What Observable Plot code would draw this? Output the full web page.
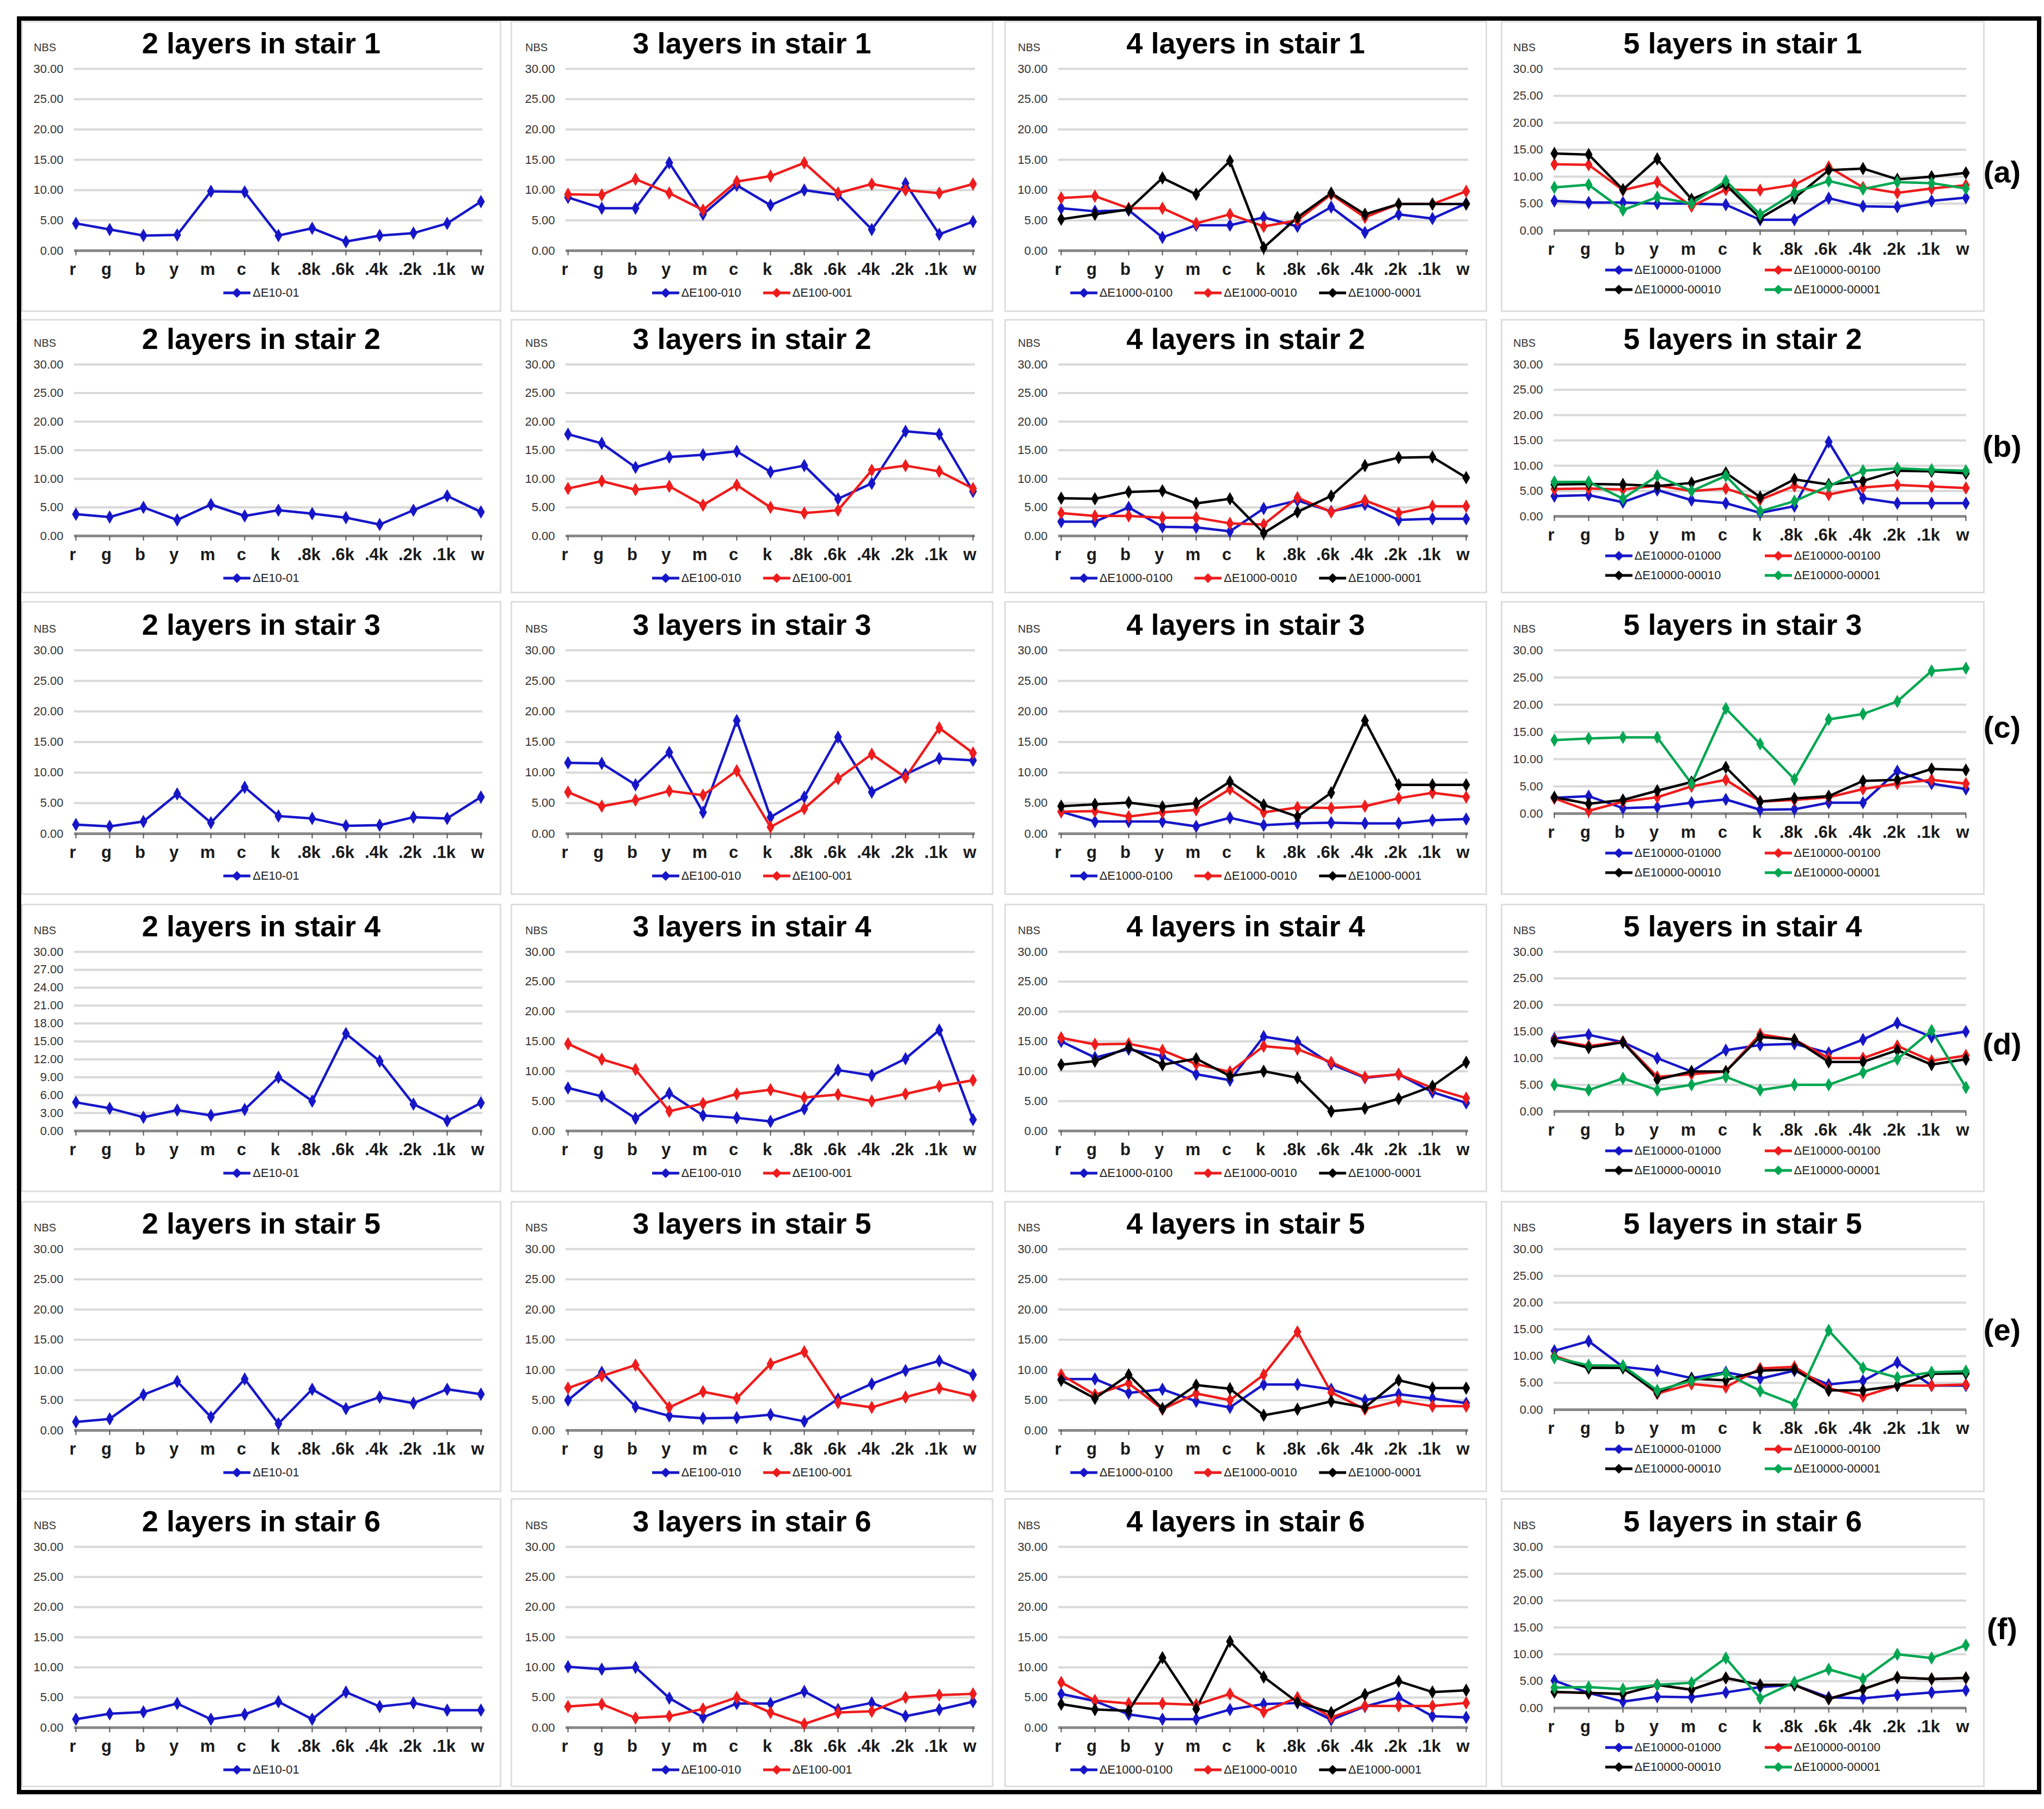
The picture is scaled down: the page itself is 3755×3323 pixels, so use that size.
<!DOCTYPE html>
<html><head><meta charset="utf-8">
<script src="https://cdn.jsdelivr.net/npm/d3@7"></script>
<script src="https://cdn.jsdelivr.net/npm/@observablehq/plot@0.6"></script>
<style>
body{margin:0;background:#fff;font-family:"Liberation Sans",Arial,sans-serif;}
#fig{position:relative;width:3755px;height:3323px;background:#fff;overflow:hidden;}
.abs{position:absolute;}
.panel{position:absolute;border:3px solid #dedede;box-sizing:border-box;background:#fff;}
.title{position:absolute;font-weight:bold;font-size:54px;color:#000;white-space:nowrap;transform:translate(-50%,-50%);line-height:1;}
.nbs{position:absolute;font-size:20px;color:#333;transform:translateY(-50%);line-height:1;}
.legend{position:absolute;transform:translate(-50%,-50%);display:flex;gap:40px;align-items:center;white-space:nowrap;}
.legend5{position:absolute;transform:translate(-50%,0);display:grid;grid-template-columns:auto auto;column-gap:80px;row-gap:14px;white-space:nowrap;}
.item{display:flex;align-items:center;font-size:22px;color:#222;line-height:1;}
.tag{position:absolute;font-weight:bold;font-size:56px;transform:translate(-50%,-50%);line-height:1;}
</style></head>
<body><div id="fig"></div>
<script>
const cats = ["r","g","b","y","m","c","k",".8k",".6k",".4k",".2k",".1k","w"];
const yTicks = [0,5,10,15,20,25,30];
const yTicks3 = [0,3,6,9,12,15,18,21,24,27,30];
const names2 = ["ΔE10-01"];
const names3 = ["ΔE100-010","ΔE100-001"];
const names4 = ["ΔE1000-0100","ΔE1000-0010","ΔE1000-0001"];
const names5 = ["ΔE10000-01000","ΔE10000-00100","ΔE10000-00010","ΔE10000-00001"];
const rowTags = ["(a)","(b)","(c)","(d)","(e)","(f)"];

// stair 1
const s1_2L = [4.5,3.5,2.5,2.6,9.8,9.7,2.5,3.7,1.5,2.5,2.9,4.5,8.1];
const s1_3L_010 = [8.8,7.0,7.0,14.5,6.0,10.8,7.5,10.0,9.2,3.5,11.1,2.7,4.8];
const s1_3L_001 = [9.3,9.2,11.8,9.5,6.7,11.4,12.3,14.5,9.5,11.0,10.0,9.5,11.0];
const s1_4L_0100 = [7.0,6.5,6.7,2.2,4.2,4.2,5.5,4.0,7.2,3.0,6.0,5.3,7.8];
const s1_4L_0010 = [8.7,9.0,7.0,7.0,4.5,6.0,4.0,5.0,9.3,5.5,7.7,7.7,9.8];
const s1_4L_0001 = [5.2,6.0,6.8,12.0,9.3,14.8,0.5,5.5,9.5,6.0,7.7,7.7,7.7];
const s1_5L_01000 = [5.5,5.2,5.2,5.0,5.0,4.8,2.0,2.0,6.0,4.5,4.4,5.5,6.1];
const s1_5L_00100 = [12.3,12.2,7.5,9.0,4.5,7.6,7.5,8.5,11.8,8.0,7.0,7.8,8.4];
const s1_5L_00010 = [14.3,14.1,7.6,13.3,5.8,8.5,2.3,6.0,11.2,11.5,9.5,10.0,10.7];
const s1_5L_00001 = [8.0,8.5,3.8,6.2,5.0,9.2,3.0,7.0,9.2,7.7,9.0,8.8,7.8];
// stair 2
const s2_2L = [3.8,3.3,5.0,2.8,5.5,3.5,4.5,3.9,3.2,2.0,4.5,7.0,4.2];
const s2_3L_010 = [17.8,16.2,12.0,13.8,14.2,14.8,11.2,12.3,6.5,9.2,18.3,17.8,7.8];
const s2_3L_001 = [8.3,9.6,8.1,8.7,5.4,8.9,5.0,4.0,4.5,11.5,12.3,11.3,8.3];
const s2_4L_0100 = [2.5,2.5,5.0,1.6,1.5,0.8,4.8,6.2,4.3,5.5,2.8,3.0,3.0];
const s2_4L_0010 = [4.0,3.5,3.5,3.2,3.2,2.2,2.0,6.7,4.2,6.2,4.0,5.2,5.2];
const s2_4L_0001 = [6.6,6.5,7.7,7.9,5.7,6.5,0.5,4.2,7.0,12.3,13.7,13.8,10.2];
const s2_5L_01000 = [4.0,4.2,2.8,5.2,3.2,2.6,0.7,2.0,14.7,3.6,2.6,2.6,2.6];
const s2_5L_00100 = [5.4,5.5,5.3,6.1,5.0,5.5,3.3,6.0,4.3,5.7,6.2,5.9,5.6];
const s2_5L_00010 = [6.3,6.4,6.3,6.0,6.6,8.6,3.8,7.3,6.3,7.0,9.0,8.9,8.5];
const s2_5L_00001 = [6.8,6.8,3.5,8.0,5.0,8.0,1.0,3.0,6.0,9.0,9.5,9.2,9.0];
// stair 3
const s3_2L = [1.5,1.2,2.0,6.5,1.8,7.6,2.9,2.5,1.3,1.4,2.7,2.5,6.0];
const s3_3L_010 = [11.6,11.5,8.0,13.3,3.5,18.5,2.7,6.0,15.8,6.8,9.7,12.3,12.0];
const s3_3L_001 = [6.8,4.5,5.5,7.0,6.3,10.3,1.1,4.1,9.0,13.0,9.2,17.3,13.2];
const s3_4L_0100 = [3.6,2.0,2.0,2.0,1.2,2.6,1.4,1.7,1.8,1.7,1.7,2.2,2.4];
const s3_4L_0010 = [3.6,3.7,2.8,3.5,3.9,7.3,3.5,4.3,4.2,4.5,5.8,6.7,6.0];
const s3_4L_0001 = [4.5,4.8,5.1,4.4,5.0,8.5,4.7,2.8,6.7,18.5,8.0,8.0,8.0];
const s3_5L_01000 = [2.9,3.2,1.0,1.2,2.0,2.6,0.7,0.8,2.0,2.0,7.8,5.5,4.5];
const s3_5L_00100 = [2.8,0.5,2.2,3.0,5.0,6.2,2.2,2.5,3.0,4.5,5.5,6.2,5.5];
const s3_5L_00010 = [3.0,1.8,2.5,4.2,5.8,8.5,2.2,2.8,3.2,6.0,6.2,8.2,8.0];
const s3_5L_00001 = [13.5,13.8,14.0,14.0,5.5,19.3,12.8,6.3,17.3,18.3,20.6,26.2,26.7];
// stair 4
const s4_2L = [4.8,3.8,2.3,3.5,2.6,3.6,9.0,5.0,16.3,11.7,4.5,1.7,4.7];
const s4_3L_010 = [7.2,5.8,2.1,6.3,2.6,2.2,1.6,3.7,10.2,9.3,12.1,16.9,1.9];
const s4_3L_001 = [14.6,12.0,10.3,3.3,4.6,6.2,6.9,5.6,6.1,5.0,6.2,7.5,8.5];
const s4_4L_0100 = [15.0,12.3,13.7,12.5,9.5,8.5,15.8,14.9,11.2,8.9,9.5,6.5,4.7];
const s4_4L_0010 = [15.6,14.5,14.6,13.5,11.2,9.9,14.2,13.7,11.5,9.0,9.5,7.2,5.5];
const s4_4L_0001 = [11.1,11.7,14.0,11.1,12.1,9.2,10.0,8.9,3.3,3.8,5.4,7.5,11.5];
const s4_5L_01000 = [13.7,14.4,13.0,10.0,7.5,11.5,12.5,12.7,11.0,13.5,16.6,14.0,15.0];
const s4_5L_00100 = [13.4,12.3,13.1,6.5,7.0,7.5,14.5,13.5,10.0,10.0,12.3,9.5,10.5];
const s4_5L_00010 = [13.2,12.0,13.0,6.0,7.5,7.5,14.0,13.5,9.3,9.3,11.5,8.8,9.8];
const s4_5L_00001 = [5.0,4.0,6.2,4.0,5.0,6.5,4.0,5.0,5.0,7.3,9.8,15.2,4.5];
// stair 5
const s5_2L = [1.4,1.9,5.9,8.1,2.2,8.5,1.1,6.8,3.6,5.5,4.5,6.8,6.0];
const s5_3L_010 = [5.0,9.6,3.9,2.4,2.0,2.1,2.6,1.5,5.2,7.7,9.9,11.5,9.2];
const s5_3L_001 = [7.0,9.0,10.8,3.8,6.4,5.3,11.0,13.0,4.6,3.8,5.5,7.0,5.7];
const s5_4L_0100 = [8.5,8.5,6.2,6.8,4.8,3.8,7.6,7.6,6.8,5.0,6.0,5.3,4.5];
const s5_4L_0010 = [9.2,5.9,7.8,3.5,6.1,5.0,9.2,16.3,6.3,3.5,4.9,4.0,4.0];
const s5_4L_0001 = [8.3,5.3,9.2,3.6,7.5,6.9,2.5,3.5,4.8,3.8,8.3,7.0,7.0];
const s5_5L_01000 = [11.0,12.8,8.0,7.3,5.9,7.0,5.8,7.3,4.7,5.4,8.8,4.5,4.5];
const s5_5L_00100 = [10.0,8.0,8.0,3.0,4.8,4.2,7.7,8.0,4.0,2.5,4.5,4.5,4.7];
const s5_5L_00010 = [9.8,7.8,7.8,3.2,5.8,5.5,7.3,7.5,3.6,3.6,4.5,6.7,6.8];
const s5_5L_00001 = [9.7,8.3,8.2,3.6,5.4,6.8,3.5,1.0,14.8,7.8,6.0,7.0,7.2];
// stair 6
const s6_2L = [1.4,2.3,2.6,4.0,1.4,2.2,4.3,1.4,5.9,3.5,4.1,2.9,2.9];
const s6_3L_010 = [10.1,9.7,10.0,4.9,1.7,4.0,4.0,6.0,3.0,4.1,1.9,3.0,4.3];
const s6_3L_001 = [3.5,3.9,1.6,1.9,3.1,5.0,2.5,0.6,2.5,2.7,5.0,5.4,5.6];
const s6_4L_0100 = [5.6,4.4,2.2,1.4,1.4,3.0,3.9,4.1,1.3,3.5,5.0,1.9,1.7];
const s6_4L_0010 = [7.5,4.5,4.0,4.0,3.8,5.6,2.6,5.0,1.7,3.6,3.6,3.6,4.1];
const s6_4L_0001 = [3.9,3.0,2.8,11.6,3.1,14.3,8.4,4.2,2.5,5.5,7.7,5.9,6.2];
const s6_5L_01000 = [5.1,2.8,1.2,2.1,2.0,2.9,3.9,4.3,2.0,1.8,2.4,2.9,3.3];
const s6_5L_00100 = [3.0,2.8,2.6,4.3,3.4,5.6,4.3,4.3,1.7,3.5,5.7,5.4,5.6];
const s6_5L_00010 = [3.0,2.8,2.6,4.3,3.4,5.6,4.3,4.3,1.7,3.5,5.7,5.4,5.6];
const s6_5L_00001 = [3.8,3.9,3.5,4.3,4.7,9.3,1.8,4.8,7.2,5.4,10.0,9.3,11.7];

const panels = [
  [[s1_2L],[s1_3L_010,s1_3L_001],[s1_4L_0100,s1_4L_0010,s1_4L_0001],[s1_5L_01000,s1_5L_00100,s1_5L_00010,s1_5L_00001]],
  [[s2_2L],[s2_3L_010,s2_3L_001],[s2_4L_0100,s2_4L_0010,s2_4L_0001],[s2_5L_01000,s2_5L_00100,s2_5L_00010,s2_5L_00001]],
  [[s3_2L],[s3_3L_010,s3_3L_001],[s3_4L_0100,s3_4L_0010,s3_4L_0001],[s3_5L_01000,s3_5L_00100,s3_5L_00010,s3_5L_00001]],
  [[s4_2L],[s4_3L_010,s4_3L_001],[s4_4L_0100,s4_4L_0010,s4_4L_0001],[s4_5L_01000,s4_5L_00100,s4_5L_00010,s4_5L_00001]],
  [[s5_2L],[s5_3L_010,s5_3L_001],[s5_4L_0100,s5_4L_0010,s5_4L_0001],[s5_5L_01000,s5_5L_00100,s5_5L_00010,s5_5L_00001]],
  [[s6_2L],[s6_3L_010,s6_3L_001],[s6_4L_0100,s6_4L_0010,s6_4L_0001],[s6_5L_01000,s6_5L_00100,s6_5L_00010,s6_5L_00001]]
];
const seriesNames = [names2, names3, names4, names5];

// ---- layout (pixels) ----
const COLORS = ["#1616c8","#ee1c1c","#000000","#00a651"];
const colPanelL = [39, 938, 1845, 2757], colPanelR = [921, 1825, 2732, 3646];
const colPlotL = [136, 1039, 1944, 2854], colPlotR = [886, 1791, 2697, 3612];
const rowPanelT = [38, 586, 1104, 1660, 2206, 2752], rowPanelB = [573, 1090, 1644, 2190, 2741, 3283];
const rowPlotT = [126, 669, 1194, 1748, 2294, 2841];
const rowPlotB = [460, 984, 1531, 2077, 2627, 3173];
const rowPlotB5 = [423, 948, 1494, 2041, 2589, 3137];
const tagY = [316, 820, 1336, 1918, 2443, 2992];
const tagX = 3678;

const fig = document.getElementById("fig");
function el(tag, cls, css, html) {
  const e = document.createElement(tag);
  if (cls) e.className = cls;
  Object.assign(e.style, css || {});
  if (html != null) e.innerHTML = html;
  fig.appendChild(e);
  return e;
}
function swatch(color) {
  return `<svg width="50" height="22" style="margin-right:4px"><line x1="0" x2="50" y1="11" y2="11" stroke="${color}" stroke-width="5"/><path d="M25,2 L34,11 L25,20 L16,11 Z" fill="${color}"/></svg>`;
}

// outer frame
el("div", "abs", {left:"31px", top:"30px", width:"3719px", height:"3266px", border:"8px solid #000", boxSizing:"border-box"});

for (let r = 0; r < 6; r++) {
  for (let c = 0; c < 4; c++) {
    const series = panels[r][c];
    const names = seriesNames[c];
    const pl = colPlotL[c], pr = colPlotR[c];
    const pt = rowPlotT[r], pb = c === 3 ? rowPlotB5[r] : rowPlotB[r];
    el("div", "panel", {left: colPanelL[c] + "px", top: rowPanelT[r] + "px",
      width: (colPanelR[c] - colPanelL[c]) + "px", height: (rowPanelB[r] - rowPanelT[r]) + "px"});
    const data = [];
    series.forEach((vals, i) => vals.forEach((v, j) => data.push({cat: cats[j], v, s: names[i], col: COLORS[i]})));
    const ML = 110, MR = 30, MT = 20, MB = 70;
    const yt = (r === 3 && c === 0) ? yTicks3 : yTicks;
    const svg = Plot.plot({
      width: pr - pl + ML + MR, height: pb - pt + MT + MB,
      marginLeft: ML, marginRight: MR, marginTop: MT, marginBottom: MB,
      style: {background: "transparent", fontFamily: "'Liberation Sans', Arial, sans-serif", overflow: "visible", color: "#222"},
      x: {type: "point", domain: cats, padding: 0},
      y: {domain: [0, 30]},
      color: {type: "identity"},
      marks: [
        Plot.ruleY(yt.filter(t => t > 0), {stroke: "#d9d9d9", strokeWidth: 4}),
        Plot.axisY({ticks: yt, tickSize: 0, tickPadding: 20, tickFormat: d => d.toFixed(2), fontSize: 22, fill: "#333", label: null}),
        Plot.ruleY([0], {stroke: "#8a8a8a", strokeWidth: 5}),
        Plot.axisX({tickSize: 9, tickFormat: () => "", stroke: "#555", strokeWidth: 2, label: null}),
        Plot.axisX({tickSize: 0, tickPadding: 22, fontSize: 31, fontWeight: "bold", dx: -6, fill: "#1a1a1a", label: null}),
        Plot.line(data, {x: "cat", y: "v", z: "s", stroke: "col", strokeWidth: 4.5}),
        Plot.dot(data, {x: "cat", y: "v", symbol: "diamond", r: 7.5, fill: "col", stroke: "none"})
      ]
    });
    svg.style.position = "absolute";
    svg.style.left = (pl - ML) + "px";
    svg.style.top = (pt - MT) + "px";
    fig.appendChild(svg);

    // title & NBS
    const cx = (colPanelL[c] + colPanelR[c]) / 2;
    el("div", "title", {left: cx + "px", top: (pt - 47) + "px"}, `${c + 2} layers in stair ${r + 1}`);
    el("div", "nbs", {left: (pl - 74) + "px", top: (pt - 39) + "px"}, "NBS");

    // legend
    const items = names.map((n, i) => `<div class="item">${swatch(COLORS[i])}${n}</div>`).join("");
    if (c < 3) {
      el("div", "legend", {left: cx + "px", top: (pb + 78) + "px"}, items);
    } else {
      el("div", "legend5", {left: cx + "px", top: (pb + 62) + "px"}, items);
    }
  }
  el("div", "tag", {left: tagX + "px", top: tagY[r] + "px"}, rowTags[r]);
}
</script>
</body></html>
